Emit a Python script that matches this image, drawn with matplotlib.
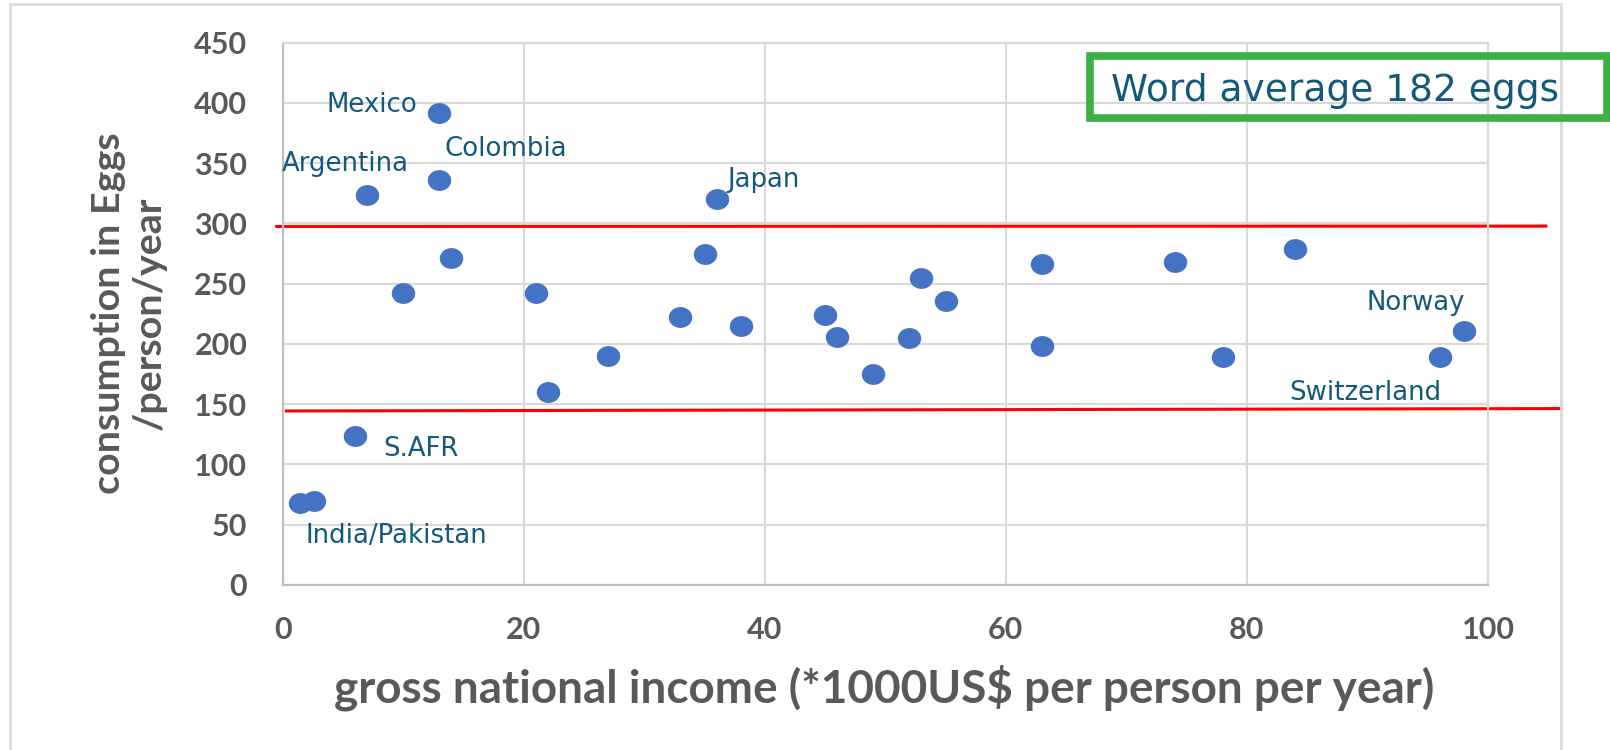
import matplotlib.pyplot as plt
from matplotlib.patches import Rectangle
from matplotlib.path import Path

# income (*1000 US$) and egg consumption per person per year
gni = [1.4, 2.6, 6, 7, 10, 13, 13, 14, 21, 22, 27, 33, 35, 36, 38,
       45, 46, 49, 52, 53, 55, 63, 63, 74, 78, 84, 96, 98]
eggs = [68, 70, 124, 324, 242, 392, 336, 271, 242, 160, 190, 222, 275, 320, 215,
        224, 206, 175, 205, 255, 236, 266, 198, 268, 189, 279, 189, 211]

# country labels: text, x, y, alignment
labels = ['Mexico', 'Colombia', 'Argentina', 'Japan', 'S.AFR',
          'India/Pakistan', 'Norway', 'Switzerland']
label_x = [11.2, 13.4, -0.1, 36.9, 8.3, 1.9, 98.1, 96.1]
label_y = [398, 362, 349, 336, 113, 40.5, 234, 159]
label_ha = ['right', 'left', 'left', 'left', 'left', 'left', 'right', 'right']

# red band lines
upper_x = [-0.5, 104.8]
upper_y = [297.5, 297.8]
lower_x = [0.3, 106.1]
lower_y = [144.4, 146.4]

x_ticks = [0, 20, 40, 60, 80, 100]
y_ticks = [0, 50, 100, 150, 200, 250, 300, 350, 400, 450]

grey = '#595959'
teal = '#135a78'
grid_c = '#d9d9d9'

fig = plt.figure(figsize=(16.1, 7.5), dpi=100)
ax = fig.add_axes([0.1756, 0.22, 0.7486, 0.7231])

# outer chart frame
fig.patches.append(Rectangle((0.0062, -0.05), 0.9634, 1.0447, transform=fig.transFigure,
                             fill=False, edgecolor=grid_c, lw=2.0))

# slightly flattened dots like the source picture
circ = Path.unit_circle()
dot = Path(circ.vertices * [1.0, 0.89], circ.codes)
ax.scatter(gni, eggs, s=285, marker=dot, color='#4472C4', zorder=3, linewidths=0)

ax.plot(upper_x, upper_y, color='#FF0000', lw=2.2, clip_on=False, zorder=2)
ax.plot(lower_x, lower_y, color='#FF0000', lw=2.2, clip_on=False, zorder=2)

for t, lx, ly, ha in zip(labels, label_x, label_y, label_ha):
    ax.text(lx, ly, t, ha=ha, va='center', color=teal, fontsize=18.7,
            family='DejaVu Sans', clip_on=False)

ax.set_xlim(0, 100)
ax.set_ylim(0, 450)
ax.set_xticks(x_ticks)
ax.set_yticks(y_ticks)
ax.grid(True, color=grid_c, lw=1.5)
ax.set_axisbelow(True)
for sp in ax.spines.values():
    sp.set_color(grid_c)
    sp.set_linewidth(1.6)
ax.spines['left'].set_color('#bfbfbf')
ax.spines['bottom'].set_color('#bfbfbf')
ax.tick_params(length=0, labelsize=22, labelcolor=grey)
ax.tick_params(axis='y', pad=25.5)
ax.tick_params(axis='x', pad=22)
for lab in ax.get_xticklabels() + ax.get_yticklabels():
    lab.set_fontfamily('Lato')
    lab.set_fontweight('bold')

ax.set_xlabel('gross national income (*1000US$ per person per year)',
              fontsize=33, fontweight='bold', color=grey, family='Lato', va='center')
ax.xaxis.set_label_coords(0.4993, -0.190)
ax.set_ylabel('consumption in Eggs\n/person/year', fontsize=28.4, fontweight='bold',
              color=grey, family='Lato', va='center', linespacing=1.2)
ax.yaxis.set_label_coords(-0.1275, 0.5016)

# average box
fig.patches.append(Rectangle((0.677, 0.8433), 0.321, 0.082, transform=fig.transFigure,
                             fill=False, edgecolor='#3cb043', lw=5.5))
fig.text(0.690, 0.8653, 'Word average 182 eggs', color=teal, fontsize=27,
         family='DejaVu Sans', va='baseline', ha='left')

fig.savefig('out.png', dpi=100)
